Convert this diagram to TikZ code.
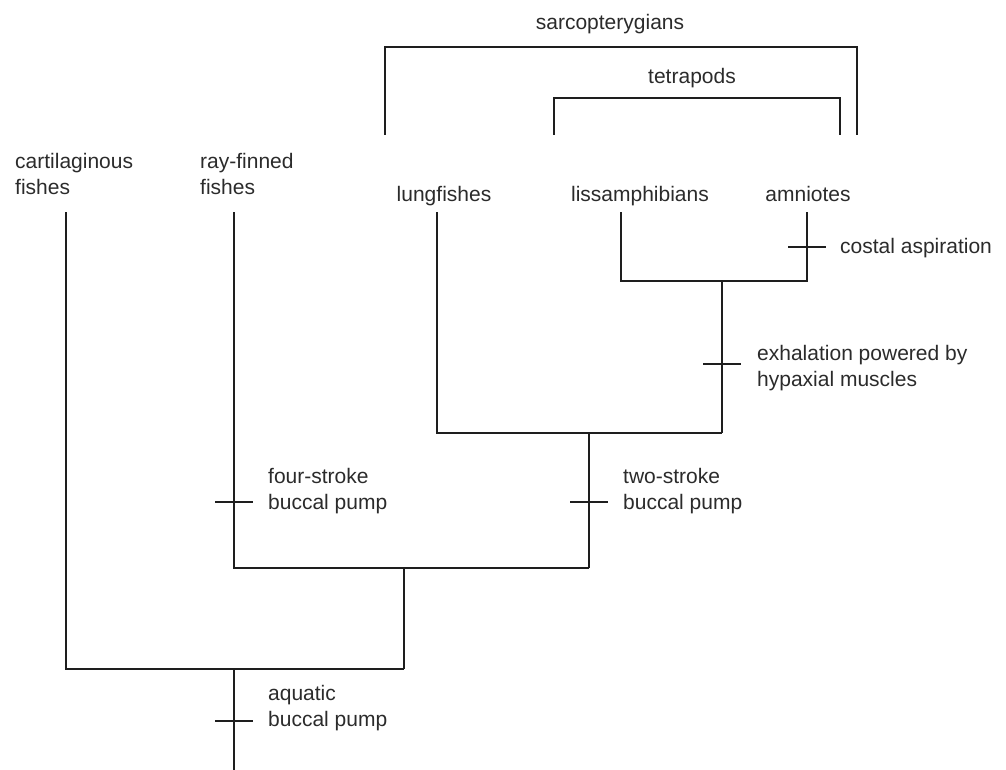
\documentclass[tikz,border=0pt]{standalone}
\usepackage{fontspec}
\setmainfont{Liberation Sans}
\definecolor{ink}{HTML}{1E1E1E}
\definecolor{lbl}{HTML}{2B2B2B}
\begin{document}
\begin{tikzpicture}[x=1pt,y=-1pt,
  branch/.style={draw=ink,line width=1.4pt},
  tick/.style={draw=ink,line width=1.4pt},
  taxon/.style={inner sep=0pt,text=lbl,font=\fontsize{21}{26.5}\selectfont,anchor=base},
  note/.style={inner sep=0pt,text=lbl,font=\fontsize{21}{26}\selectfont,align=left,anchor=base west},
  ]
\useasboundingbox (0,0) rectangle (1006,770);

% taxon labels (a two-line label is placed by the baseline of its last line)
\node[note] (cart) at (15,195) {cartilaginous\\fishes};
\node[note] (ray)  at (200,195) {ray-finned\\fishes};
\node[taxon] (lung) at (444,201) {lungfishes};
\node[taxon] (liss) at (640,201) {lissamphibians};
\node[taxon] (amn)  at (808,201) {amniotes};

% tips of the branches
\coordinate (tcart) at (66,212);
\coordinate (tray)  at (234,212);
\coordinate (tlung) at (437,212);
\coordinate (tliss) at (621,212);
\coordinate (tamn)  at (807,212);

% internal nodes
\coordinate (ntet)  at (722,281);
\coordinate (nsar)  at (589,433);
\coordinate (nost)  at (404,568);
\coordinate (ngna)  at (234,669);
\coordinate (root)  at (234,770);

% tree
\draw[branch] (tliss) |- (ntet) -| (tamn);
\draw[branch] (ntet) -- (ntet |- nsar);
\draw[branch] (tlung) |- (nsar) -| (ntet |- nsar);
\draw[branch] (nsar) -- (nsar |- nost);
\draw[branch] (tray) |- (nost) -| (nsar |- nost);
\draw[branch] (nost) -- (nost |- ngna);
\draw[branch] (tcart) |- (ngna) -| (nost |- ngna);
\draw[branch] (ngna) -- (root);

% character marks
\coordinate (kcos) at (807,247);
\coordinate (kexh) at (722,364);
\coordinate (ktwo) at (589,502);
\coordinate (kfour) at (234,502);
\coordinate (kaq) at (234,721);
\foreach \k in {kcos,kexh,ktwo,kfour,kaq}
  \draw[tick] ([xshift=-19pt]\k) -- ([xshift=19pt]\k);

\node[note] (lcos)  at (840,253) {costal aspiration};
\node[note] (lexh)  at (757,386) {exhalation powered by\\hypaxial muscles};
\node[note] (ltwo)  at (623,509) {two-stroke\\buccal pump};
\node[note] (lfour) at (268,509) {four-stroke\\buccal pump};
\node[note] (laq)   at (268,726) {aquatic\\buccal pump};

% clade brackets
\coordinate (sl) at (385,135);
\coordinate (sr) at (857,135);
\coordinate (tl) at (554,135);
\coordinate (tr) at (840,135);
\draw[branch] (sl) -- ++(0,-88) -| (sr);
\draw[branch] (tl) -- ++(0,-37) -| (tr);
\node[taxon] (sarc) at (610,30) {sarcopterygians};
\node[taxon] (tetr) at (692,84) {tetrapods};
\end{tikzpicture}
\end{document}
